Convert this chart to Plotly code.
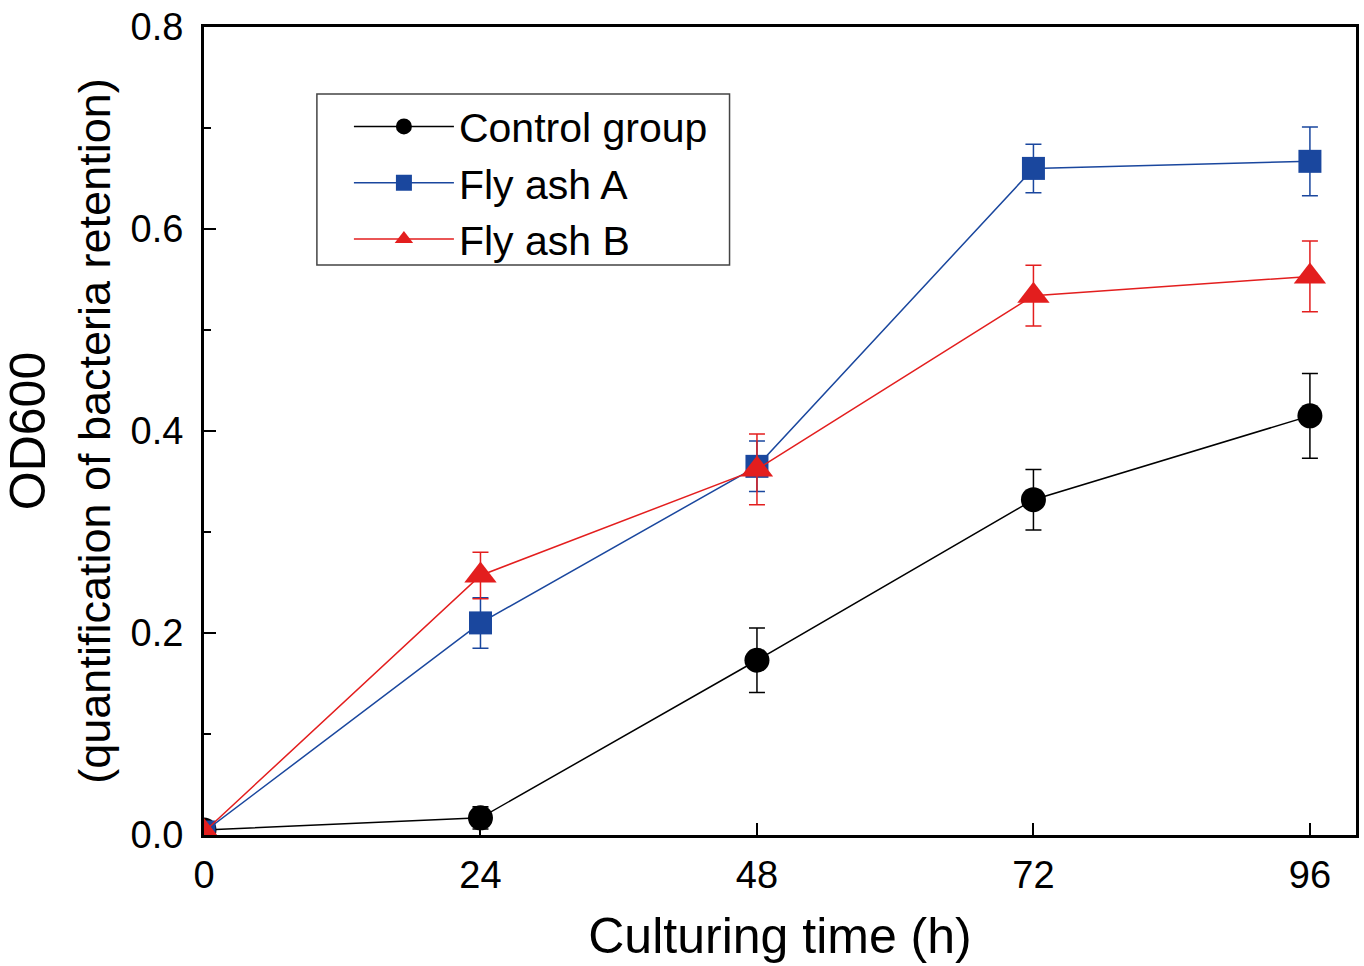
import plotly.graph_objects as go

time_h = [0, 24, 48, 72, 96]
control = [0.005, 0.017, 0.173, 0.332, 0.415]
control_err = [0.0, 0.011, 0.032, 0.030, 0.042]
fly_a = [0.003, 0.210, 0.365, 0.660, 0.667]
fly_a_err = [0.0, 0.025, 0.025, 0.024, 0.034]
fly_b = [0.003, 0.257, 0.362, 0.534, 0.553]
fly_b_err = [0.0, 0.023, 0.035, 0.030, 0.035]

FONT = "Liberation Sans, Arial, sans-serif"
BLACK = "#000000"
BLUE = "#1a479e"
RED = "#e31e1e"

fig = go.Figure()

def add(name, y, err, color, symbol, size):
    fig.add_trace(go.Scatter(
        x=time_h, y=y, name=name, mode="lines+markers",
        line=dict(color=color, width=1.5),
        marker=dict(symbol=symbol, size=size, color=color, line=dict(width=0)),
        error_y=dict(type="data", array=err, visible=True, color=color,
                     thickness=1.5, width=8),
    ))

add("Control group", control, control_err, BLACK, "circle", 25)
add("Fly ash A", fly_a, fly_a_err, BLUE, "square", 23)
add("Fly ash B", fly_b, fly_b_err, RED, "triangle-up", 28)

fig.update_layout(
    width=1364, height=966,
    margin=dict(l=204, r=5, t=27, b=131),
    paper_bgcolor="white", plot_bgcolor="white",
    font=dict(family=FONT, color="black", size=38),
    showlegend=True,
    legend=dict(
        x=0.1258, y=0.918, xanchor="left", yanchor="top",
        bgcolor="rgba(0,0,0,0)", borderwidth=0,
        font=dict(size=41, family=FONT), itemwidth=100,
        tracegroupgap=0,
    ),
    shapes=[dict(type="rect", xref="paper", yref="paper",
                 x0=0.098, x1=0.4562, y0=0.7054, y1=0.917,
                 line=dict(color="#444444", width=1.5), fillcolor="rgba(0,0,0,0)",
                 layer="below")],
    xaxis=dict(
        range=[0, 100], tickvals=time_h, ticktext=[str(t) for t in time_h],
        ticks="inside", ticklen=12, tickwidth=2, tickcolor="black",
        showline=True, linecolor="black", linewidth=3, mirror=True,
        showgrid=False, zeroline=False,
        tickfont=dict(size=38, family=FONT),
        ticklabelstandoff=4,
        title=dict(text="Culturing time (h)", font=dict(size=50, family=FONT), standoff=24),
    ),
    yaxis=dict(
        range=[0, 0.8], tickvals=[0, 0.2, 0.4, 0.6, 0.8], tickformat=".1f",
        ticks="inside", ticklen=12, tickwidth=2, tickcolor="black",
        minor=dict(tickvals=[0.1, 0.3, 0.5, 0.7], ticks="inside", ticklen=7, tickwidth=2, tickcolor="black"),
        showline=True, linecolor="black", linewidth=3, mirror=True,
        showgrid=False, zeroline=False,
        tickfont=dict(size=38, family=FONT),
        ticklabelstandoff=10,
        title=dict(text="OD600<br><span style='font-size:45px'>(quantification of bacteria retention)</span>",
                   font=dict(size=50, family=FONT), standoff=10),
    ),
)

fig.write_html("out.html")
